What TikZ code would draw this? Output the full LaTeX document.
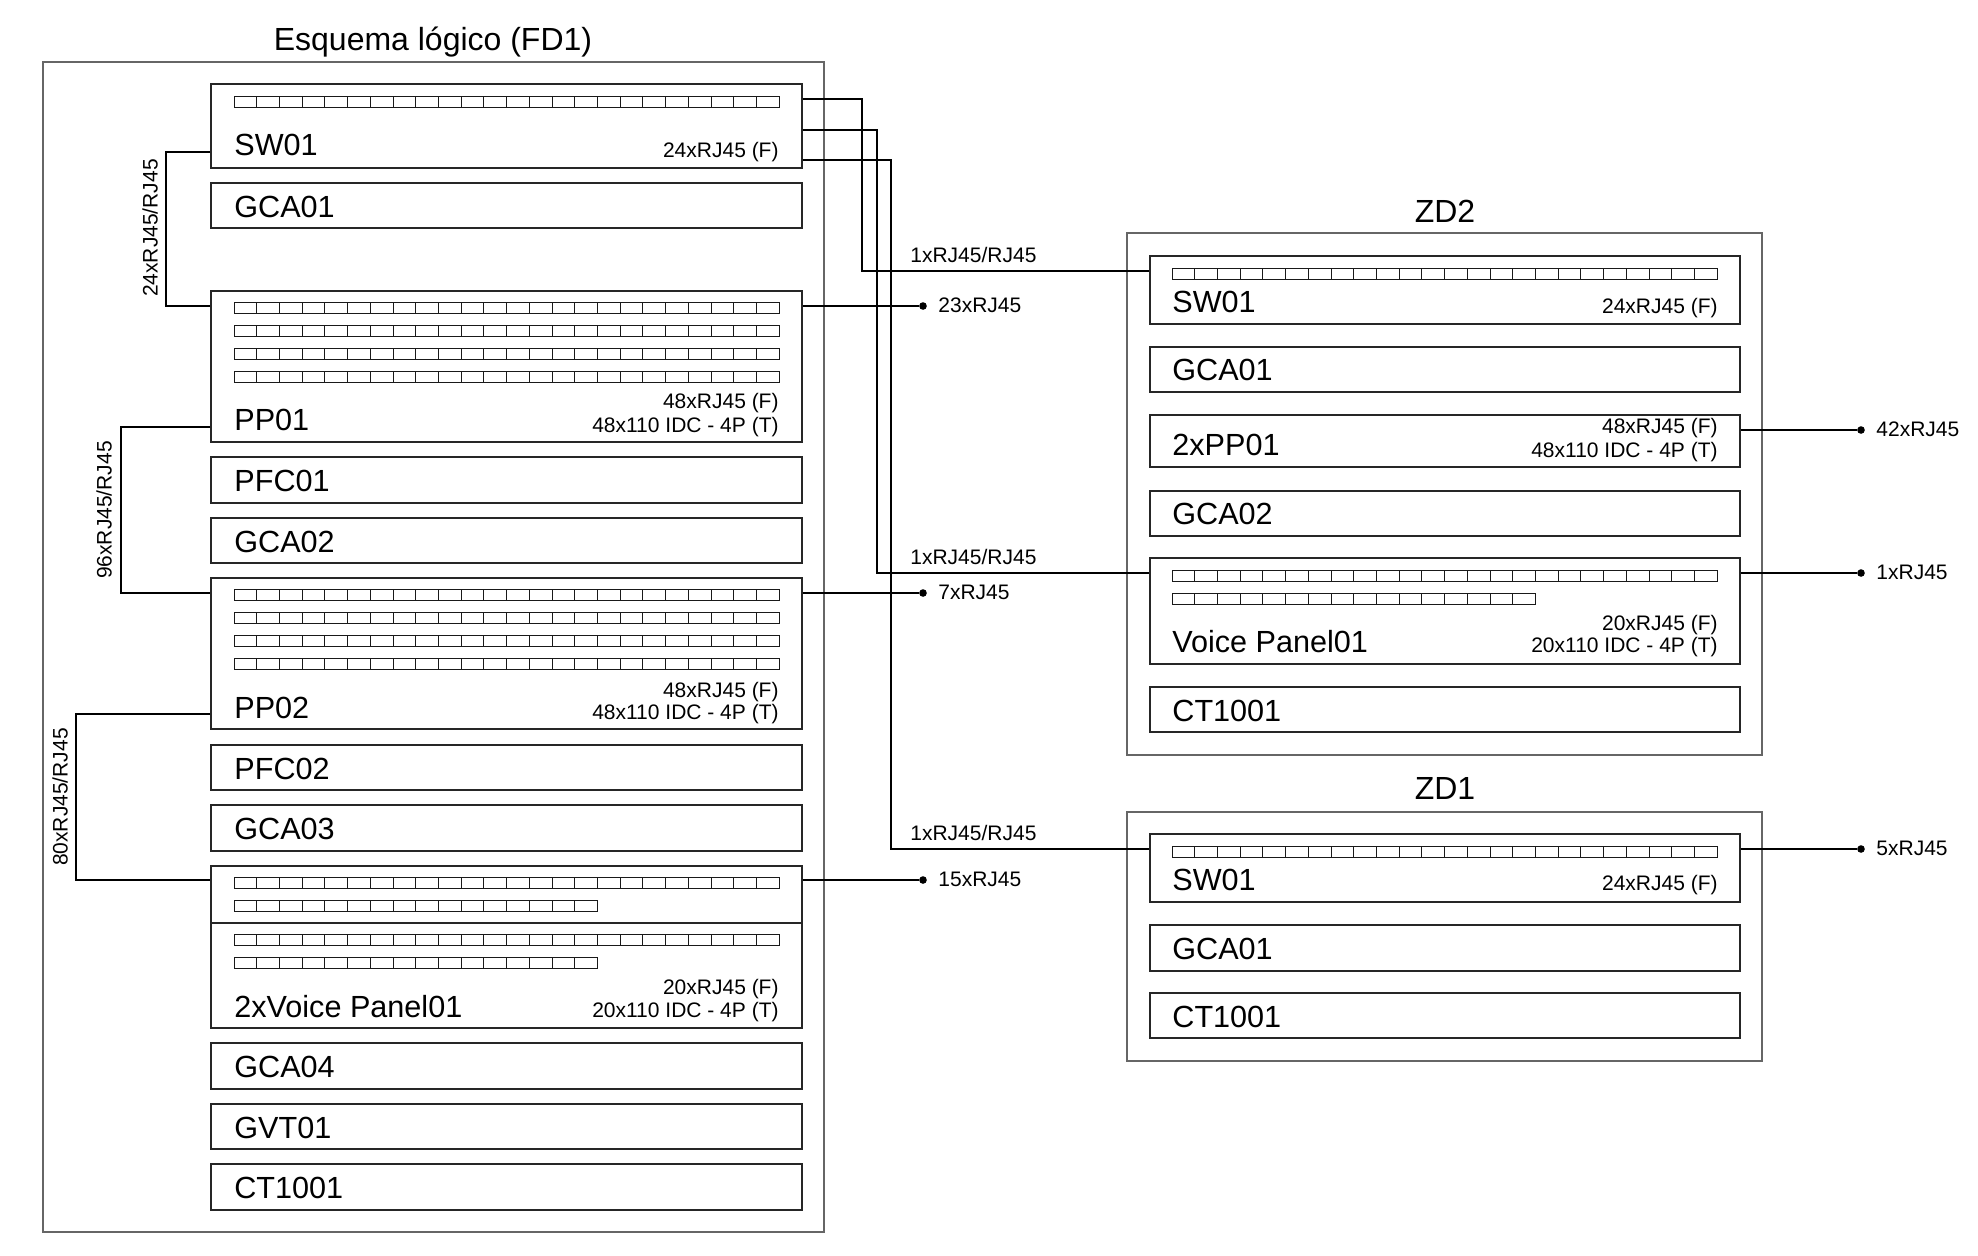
\documentclass[tikz,border=0pt]{standalone}
\usepackage{fontspec}
\setmainfont{Liberation Sans}
\usetikzlibrary{fit}
\tikzset{
  outer/.style={draw=black!60, line width=0.75pt, inner sep=0pt},
  box/.style={draw=black!85, line width=0.7pt, inner sep=0pt},
  big/.style={inner sep=0pt, font=\fontsize{15.3}{18}\selectfont},
  small/.style={inner sep=0pt, font=\fontsize{10.5}{12}\selectfont},
  ttl/.style={inner sep=0pt, font=\fontsize{16}{19}\selectfont},
  wire/.style={line width=0.65pt},
  dot/.style={circle, fill, inner sep=0pt, minimum size=3.8pt},
  port/.style={draw=black!90, line width=0.5pt},
}
\newcommand\portrow[3]{%
  \foreach \i in {1,...,#3} {\draw[port] ({#1+(\i-1)*22.72},#2) rectangle ++(22.72,11);}%
}
\begin{document}
\begin{tikzpicture}[x=0.5pt, y=-0.5pt]
\useasboundingbox (0,0) rectangle (1978,1255);

% ---------------- FD1 ----------------
\node[ttl, anchor=base] (t1) at (433,50) {Esquema lógico (FD1)};
\node[outer, fit={(43,62) (824,1232)}] (fd1) {};

\node[box, fit={(211,84) (802,168)}] (sw1) {};
\portrow{234}{96}{24}
\node[big, anchor=base west] (sw1l) at (234,155) {SW01};
\node[small, anchor=base east] (sw1r) at (779,157) {24xRJ45 (F)};

\node[box, fit={(211,183) (802,228)}] (gca1) {};
\node[big, anchor=base west] (gca1l) at (234,217) {GCA01};

\node[box, fit={(211,291) (802,442)}] (pp1) {};
\portrow{234}{302}{24}
\portrow{234}{325}{24}
\portrow{234}{348}{24}
\portrow{234}{371}{24}
\node[big, anchor=base west] (pp1l) at (234,430) {PP01};
\node[small, anchor=base east] (pp1r1) at (779,408) {48xRJ45 (F)};
\node[small, anchor=base east] (pp1r2) at (779,432) {48x110 IDC - 4P (T)};

\node[box, fit={(211,457) (802,503)}] (pfc1) {};
\node[big, anchor=base west] (pfc1l) at (234,491) {PFC01};

\node[box, fit={(211,518) (802,563)}] (gca2) {};
\node[big, anchor=base west] (gca2l) at (234,552) {GCA02};

\node[box, fit={(211,578) (802,729)}] (pp2) {};
\portrow{234}{589}{24}
\portrow{234}{612}{24}
\portrow{234}{635}{24}
\portrow{234}{658}{24}
\node[big, anchor=base west] (pp2l) at (234,718) {PP02};
\node[small, anchor=base east] (pp2r1) at (779,697) {48xRJ45 (F)};
\node[small, anchor=base east] (pp2r2) at (779,719) {48x110 IDC - 4P (T)};

\node[box, fit={(211,745) (802,790)}] (pfc2) {};
\node[big, anchor=base west] (pfc2l) at (234,779) {PFC02};

\node[box, fit={(211,805) (802,851)}] (gca3) {};
\node[big, anchor=base west] (gca3l) at (234,839) {GCA03};

\node[box, fit={(211,866) (802,1028)}] (vp) {};
\draw[box] (vp.west |- 0,923) -- (vp.east |- 0,923);
\portrow{234}{877}{24}
\portrow{234}{900}{16}
\portrow{234}{934}{24}
\portrow{234}{957}{16}
\node[big, anchor=base west] (vpl) at (234,1017) {2xVoice Panel01};
\node[small, anchor=base east] (vpr1) at (779,994) {20xRJ45 (F)};
\node[small, anchor=base east] (vpr2) at (779,1017) {20x110 IDC - 4P (T)};

\node[box, fit={(211,1043) (802,1089)}] (gca4) {};
\node[big, anchor=base west] (gca4l) at (234,1077) {GCA04};

\node[box, fit={(211,1104) (802,1149)}] (gvt) {};
\node[big, anchor=base west] (gvtl) at (234,1138) {GVT01};

\node[box, fit={(211,1164) (802,1210)}] (ct) {};
\node[big, anchor=base west] (ctl) at (234,1198) {CT1001};

% ---------------- ZD2 ----------------
\node[ttl, anchor=base] (t2) at (1445,222) {ZD2};
\node[outer, fit={(1127,233) (1762,755)}] (zd2) {};

\node[box, fit={(1150,256) (1740,324)}] (zsw2) {};
\portrow{1172}{268}{24}
\node[big, anchor=base west] (zsw2l) at (1172,312) {SW01};
\node[small, anchor=base east] (zsw2r) at (1718,313) {24xRJ45 (F)};

\node[box, fit={(1150,347) (1740,392)}] (zgca1) {};
\node[big, anchor=base west] (zgca1l) at (1172,380) {GCA01};

\node[box, fit={(1150,415) (1740,467)}] (zpp) {};
\node[big, anchor=base west] (zppl) at (1172,455) {2xPP01};
\node[small, anchor=base east] (zppr1) at (1718,433) {48xRJ45 (F)};
\node[small, anchor=base east] (zppr2) at (1718,457) {48x110 IDC - 4P (T)};

\node[box, fit={(1150,491) (1740,536)}] (zgca2) {};
\node[big, anchor=base west] (zgca2l) at (1172,524) {GCA02};

\node[box, fit={(1150,558) (1740,664)}] (zvp) {};
\portrow{1172}{570}{24}
\portrow{1172}{593}{16}
\node[big, anchor=base west] (zvpl) at (1172,652) {Voice Panel01};
\node[small, anchor=base east] (zvpr1) at (1718,630) {20xRJ45 (F)};
\node[small, anchor=base east] (zvpr2) at (1718,652) {20x110 IDC - 4P (T)};

\node[box, fit={(1150,687) (1740,732)}] (zct) {};
\node[big, anchor=base west] (zctl) at (1172,721) {CT1001};

% ---------------- ZD1 ----------------
\node[ttl, anchor=base] (t3) at (1445,799) {ZD1};
\node[outer, fit={(1127,812) (1762,1061)}] (zd1) {};

\node[box, fit={(1150,834) (1740,902)}] (zsw1) {};
\portrow{1172}{846}{24}
\node[big, anchor=base west] (zsw1l) at (1172,890) {SW01};
\node[small, anchor=base east] (zsw1r) at (1718,890) {24xRJ45 (F)};

\node[box, fit={(1150,925) (1740,971)}] (z1gca) {};
\node[big, anchor=base west] (z1gcal) at (1172,959) {GCA01};

\node[box, fit={(1150,993) (1740,1038)}] (z1ct) {};
\node[big, anchor=base west] (z1ctl) at (1172,1027) {CT1001};

% ---------------- internal links ----------------
\coordinate (k1) at (166,152);
\coordinate (k2) at (121,427);
\coordinate (k3) at (76,714);
\draw[wire] (sw1.west |- k1) -- (k1) |- (pp1.west |- 0,306);
\draw[wire] (pp1.west |- k2) -- (k2) |- (pp2.west |- 0,593);
\draw[wire] (pp2.west |- k3) -- (k3) |- (vp.west |- 0,880);
\node[small, rotate=90] (k1l) at (150,228) {24xRJ45/RJ45};
\node[small, rotate=90] (k2l) at (104,510) {96xRJ45/RJ45};
\node[small, rotate=90] (k3l) at (60,797) {80xRJ45/RJ45};

% ---------------- uplinks ----------------
\coordinate (u1) at (862,271);
\coordinate (u2) at (877,573);
\coordinate (u3) at (891,849);
\draw[wire] (sw1.east |- 0,99) -| (u1) -- (zsw2.west |- u1);
\draw[wire] (sw1.east |- 0,130) -| (u2) -- (zvp.west |- u2);
\draw[wire] (sw1.east |- 0,160) -| (u3) -- (zsw1.west |- u3);
\node[small, anchor=base west] (u1l) at (910,262) {1xRJ45/RJ45};
\node[small, anchor=base west] (u2l) at (910,564) {1xRJ45/RJ45};
\node[small, anchor=base west] (u3l) at (910,840) {1xRJ45/RJ45};

% ---------------- outlets ----------------
\node[dot] (o1) at (923,306) {};
\node[dot] (o2) at (923,593) {};
\node[dot] (o3) at (923,880) {};
\node[dot] (o4) at (1861,430) {};
\node[dot] (o5) at (1861,573) {};
\node[dot] (o6) at (1861,849) {};
\draw[wire] (pp1.east |- o1) -- (o1);
\draw[wire] (pp2.east |- o2) -- (o2);
\draw[wire] (vp.east |- o3) -- (o3);
\draw[wire] (zpp.east |- o4) -- (o4);
\draw[wire] (zvp.east |- o5) -- (o5);
\draw[wire] (zsw1.east |- o6) -- (o6);
\node[small, anchor=base west] (o1l) at (938,312) {23xRJ45};
\node[small, anchor=base west] (o2l) at (938,599) {7xRJ45};
\node[small, anchor=base west] (o3l) at (938,886) {15xRJ45};
\node[small, anchor=base west] (o4l) at (1876,436) {42xRJ45};
\node[small, anchor=base west] (o5l) at (1876,579) {1xRJ45};
\node[small, anchor=base west] (o6l) at (1876,855) {5xRJ45};
\end{tikzpicture}
\end{document}
